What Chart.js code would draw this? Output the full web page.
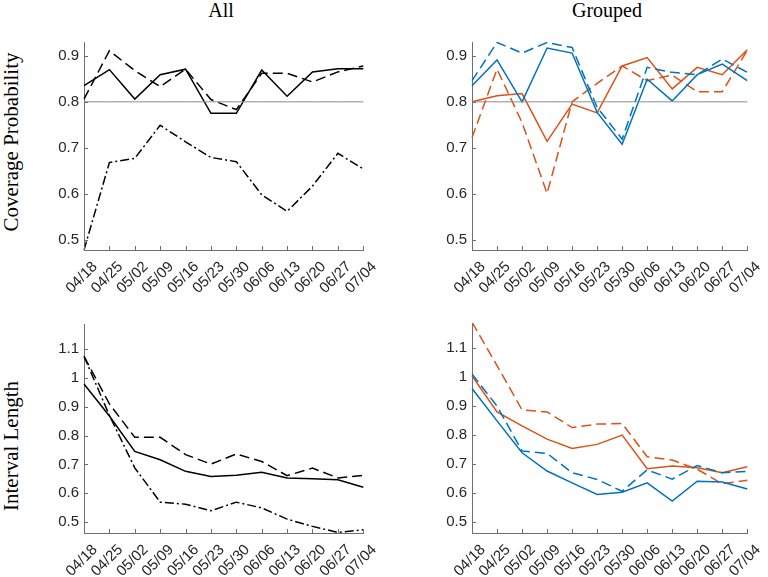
<!DOCTYPE html>
<html>
<head>
<meta charset="utf-8">
<script src="https://cdn.jsdelivr.net/npm/chart.js@4.4.1/dist/chart.umd.min.js"></script>
<style>
body{margin:0;background:#fff;width:768px;height:577px;position:relative;overflow:hidden}
.panel{position:absolute}
.lbl{position:absolute;font-family:"Liberation Serif",serif;font-size:20px;color:#000;white-space:nowrap;transform:translate(-50%,-50%)}
.rot{font-size:21px;transform:translate(-50%,-50%) rotate(-90deg)}
</style>
</head>
<body>
<div class="lbl" style="left:221px;top:10px">All</div>
<div class="lbl" style="left:607px;top:10px">Grouped</div>
<div class="lbl rot" style="left:11px;top:142px">Coverage Probability</div>
<div class="lbl rot" style="left:11px;top:446px">Interval Length</div>
<div class="panel" style="left:0;top:0;width:384px;height:305px"><canvas id="c1"></canvas></div>
<div class="panel" style="left:384px;top:0;width:384px;height:305px"><canvas id="c2"></canvas></div>
<div class="panel" style="left:0;top:290px;width:384px;height:300px"><canvas id="c3"></canvas></div>
<div class="panel" style="left:384px;top:290px;width:384px;height:300px"><canvas id="c4"></canvas></div>
<script>
const dates=['04/18','04/25','05/02','05/09','05/16','05/23','05/30','06/06','06/13','06/20','06/27','07/04'];

// coverage probability, all
const covAllSolid=[0.835,0.870,0.806,0.859,0.871,0.775,0.775,0.869,0.812,0.865,0.872,0.872];
const covAllDashed=[0.806,0.911,0.868,0.833,0.871,0.805,0.783,0.862,0.862,0.843,0.865,0.878];
const covAllDashDot=[0.478,0.668,0.677,0.749,0.713,0.679,0.670,0.598,0.562,0.617,0.688,0.654];
// coverage probability, grouped
const covGrpBlue=[0.835,0.891,0.800,0.917,0.906,0.777,0.708,0.849,0.802,0.859,0.882,0.846];
const covGrpBlueDash=[0.846,0.929,0.906,0.929,0.918,0.788,0.719,0.875,0.864,0.859,0.893,0.864];
const covGrpRed=[0.800,0.813,0.818,0.714,0.795,0.776,0.878,0.896,0.828,0.875,0.859,0.913];
const covGrpRedDash=[0.722,0.871,0.755,0.601,0.800,0.840,0.878,0.846,0.858,0.822,0.822,0.912];
const refLine=[0.8,0.8,0.8,0.8,0.8,0.8,0.8,0.8,0.8,0.8,0.8,0.8];

// interval length, all
const lenAllSolid=[0.979,0.868,0.745,0.716,0.676,0.658,0.662,0.673,0.653,0.650,0.647,0.621];
const lenAllDashed=[1.075,0.910,0.794,0.794,0.734,0.701,0.736,0.710,0.661,0.687,0.653,0.662];
const lenAllDashDot=[1.075,0.870,0.688,0.569,0.562,0.539,0.569,0.549,0.510,0.485,0.464,0.473];
// interval length, grouped
const lenGrpRed=[1.005,0.880,0.832,0.786,0.754,0.768,0.800,0.684,0.693,0.687,0.670,0.691];
const lenGrpRedDash=[1.190,1.040,0.887,0.880,0.826,0.838,0.840,0.725,0.714,0.682,0.632,0.644];
const lenGrpBlue=[0.961,0.849,0.739,0.676,0.635,0.595,0.603,0.635,0.572,0.641,0.638,0.614];
const lenGrpBlueDash=[1.011,0.900,0.745,0.737,0.670,0.647,0.606,0.680,0.648,0.695,0.670,0.675];

const covTicks=[0.5,0.6,0.7,0.8,0.9];
const lenTicks=[0.5,0.6,0.7,0.8,0.9,1,1.1];

const BLACK='#000000', BLUE='#0072BD', RED='#D95319', AXIS='#6e6e6e';
const DASH=[10,5], DASHDOT=[9,3,2,3];

const inwardTicks={
    id:'inwardTicks',
    afterDraw(chart){
        const {ctx,chartArea}=chart;
        const xs=chart.scales.x, ys=chart.scales.y;
        ctx.save();
        ctx.strokeStyle=AXIS;
        ctx.lineWidth=1;
        ctx.beginPath();
        xs.ticks.forEach((t,i)=>{
            const px=Math.round(xs.getPixelForTick(i))+0.5;
            ctx.moveTo(px,chartArea.bottom);
            ctx.lineTo(px,chartArea.bottom-4);
        });
        ys.ticks.forEach((t,i)=>{
            const py=Math.round(ys.getPixelForTick(i))+0.5;
            ctx.moveTo(chartArea.left,py);
            ctx.lineTo(chartArea.left+4,py);
        });
        ctx.stroke();
        ctx.restore();
    }
};

function line(data,color,dash,width){
    return {data:data,borderColor:color,borderDash:dash||[],borderWidth:width||1.5,
        pointRadius:0,tension:0,fill:false};
}

function createPanel(id,datasets,ticks,yMin,yMax,yWidth,padTop,xHeight){
    const ctx=document.getElementById(id).getContext('2d');
    return new Chart(ctx,{
        type:'line',
        data:{labels:dates,datasets:datasets},
        options:{
            responsive:true,
            maintainAspectRatio:false,
            animation:false,
            layout:{padding:{top:padTop,right:14,left:0,bottom:0}},
            plugins:{legend:{display:false},tooltip:{enabled:false}},
            scales:{
                x:{
                    grid:{drawOnChartArea:false,drawTicks:false},
                    border:{color:AXIS,width:1},
                    ticks:{maxRotation:45,minRotation:45,autoSkip:false,padding:8,labelOffset:11,color:'#262626',
                        font:{family:'"Liberation Sans", Arial, sans-serif',size:15}},
                    afterFit(s){s.height=xHeight;}
                },
                y:{
                    min:yMin,max:yMax,
                    grid:{drawOnChartArea:false,drawTicks:false},
                    border:{color:AXIS,width:1},
                    ticks:{padding:5,color:'#262626',
                        font:{family:'"Liberation Sans", Arial, sans-serif',size:15},
                        callback:(v)=>String(Math.round(v*10)/10)},
                    afterBuildTicks(s){s.ticks=ticks.map(v=>({value:v}));},
                    afterFit(s){s.width=yWidth;}
                }
            }
        },
        plugins:[inwardTicks]
    });
}

createPanel('c1',[
    line(refLine,'#8c8c8c',[],1),
    line(covAllSolid,BLACK),
    line(covAllDashed,BLACK,DASH),
    line(covAllDashDot,BLACK,DASHDOT)
],covTicks,0.478,0.93,84,42,55);

createPanel('c2',[
    line(refLine,'#8c8c8c',[],1),
    line(covGrpBlue,BLUE),
    line(covGrpBlueDash,BLUE,DASH),
    line(covGrpRed,RED),
    line(covGrpRedDash,RED,DASH)
],covTicks,0.478,0.93,88,42,55);

createPanel('c3',[
    line(lenAllSolid,BLACK),
    line(lenAllDashed,BLACK,DASH),
    line(lenAllDashDot,BLACK,DASHDOT)
],lenTicks,0.462,1.187,84,34,57);

createPanel('c4',[
    line(lenGrpBlue,BLUE),
    line(lenGrpBlueDash,BLUE,DASH),
    line(lenGrpRed,RED),
    line(lenGrpRedDash,RED,DASH)
],lenTicks,0.462,1.187,88,33,57);
</script>
</body>
</html>
